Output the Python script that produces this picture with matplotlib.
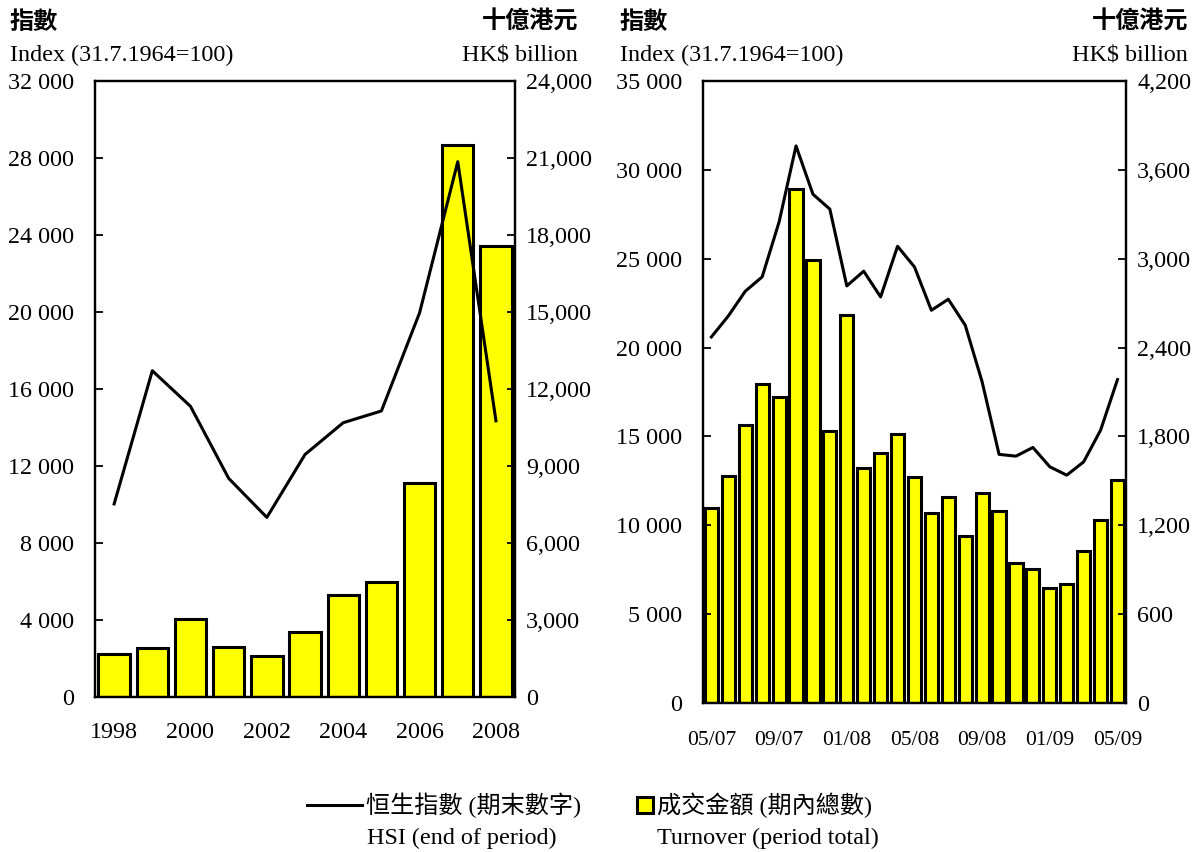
import matplotlib.pyplot as plt
from matplotlib.lines import Line2D
from matplotlib.patches import Rectangle
from matplotlib.ticker import FuncFormatter

# Data
years = list(range(1998, 2009))
hsi_year = [10030, 16950, 15100, 11360, 9330, 12600, 14250, 14860, 19960, 27810, 14350]
turnover_year = [1675, 1910, 3030, 1940, 1585, 2530, 3960, 4495, 8320, 21500, 17580]

months = ['05/07', '06/07', '07/07', '08/07', '09/07', '10/07', '11/07', '12/07',
          '01/08', '02/08', '03/08', '04/08', '05/08', '06/08', '07/08', '08/08',
          '09/08', '10/08', '11/08', '12/08', '01/09', '02/09', '03/09', '04/09', '05/09']
hsi_month = [20600, 21780, 23170, 23980, 27070, 31350, 28630, 27790,
             23470, 24300, 22850, 25700, 24540, 22100, 22720, 21260,
             18070, 13990, 13890, 14380, 13290, 12820, 13570, 15350, 18200]
turnover_month = [1316, 1532, 1876, 2153, 2065, 3470, 2990, 1838,
                  2622, 1588, 1690, 1815, 1527, 1283, 1390, 1127,
                  1418, 1298, 945, 905, 776, 802, 1027, 1236, 1505]

SERIF = 'Liberation Serif'
CJK = 'Noto Sans CJK TC'
FS = 17.4
YELLOW = '#FFFF00'

fig = plt.figure(figsize=(12, 8.52), dpi=100)


def space_fmt(v, pos):
    return f'{int(v):,}'.replace(',', ' ')


def comma_fmt(v, pos):
    return f'{int(v):,}'


def setup(ax, ax2):
    ax.set_zorder(ax2.get_zorder() + 1)
    ax.patch.set_visible(False)
    for a in (ax, ax2):
        for s in a.spines.values():
            s.set_linewidth(1.6)
        a.tick_params(axis='x', direction='in', length=0, labelsize=FS, pad=18)
        for lbl in a.get_xticklabels() + a.get_yticklabels():
            lbl.set_fontfamily(SERIF)
    ax.tick_params(axis='y', direction='in', length=6, width=1.3, labelsize=FS, pad=15)
    ax2.tick_params(axis='y', direction='in', length=6, width=1.3, labelsize=FS, pad=8)


# Left panel: annual
ax = fig.add_axes([0.0792, 0.1819, 0.3500, 0.7230])
ax2 = ax.twinx()
ax2.bar(years, turnover_year, width=0.82, color=YELLOW, edgecolor='black', linewidth=2.2)
ax.plot(years, hsi_year, color='black', linewidth=2.2)
ax.set_xlim(1997.5, 2008.5)
ax.set_ylim(0, 32000)
ax2.set_ylim(0, 24000)
ax.set_yticks(range(0, 32001, 4000))
ax2.set_yticks(range(0, 24001, 3000))
ax.yaxis.set_major_formatter(FuncFormatter(space_fmt))
ax2.yaxis.set_major_formatter(FuncFormatter(comma_fmt))
ax.set_xticks(years[::2])
ax.set_xticklabels([str(y) for y in years[::2]])
setup(ax, ax2)

# Right panel: monthly
x = list(range(len(months)))
bx = fig.add_axes([0.5858, 0.1749, 0.3525, 0.7300])
bx2 = bx.twinx()
bx2.bar(x, turnover_month, width=0.78, color=YELLOW, edgecolor='black', linewidth=2.2)
bx.plot(x, hsi_month, color='black', linewidth=2.2)
bx.set_xlim(-0.5, len(months) - 0.5)
bx.set_ylim(0, 35000)
bx2.set_ylim(0, 4200)
bx.set_yticks(range(0, 35001, 5000))
bx2.set_yticks(range(0, 4201, 600))
bx.yaxis.set_major_formatter(FuncFormatter(space_fmt))
bx2.yaxis.set_major_formatter(FuncFormatter(comma_fmt))
bx.set_xticks(x[::4])
bx.set_xticklabels(months[::4])
setup(bx, bx2)
bx.tick_params(axis='x', labelsize=15.5, pad=20)

# Axis titles
def fx(px):
    return px / 1200


def fy(py):
    return 1 - py / 852


for x0, x1 in [(10, 578), (620, 1188)]:
    fig.text(fx(x0), fy(22), '指數', family=CJK, fontsize=FS, fontweight='bold', va='center')
    fig.text(fx(x0), fy(55), 'Index (31.7.1964=100)', family=SERIF, fontsize=FS, va='center')
    fig.text(fx(x1), fy(22), '十億港元', family=CJK, fontsize=FS, fontweight='bold', va='center', ha='right')
    fig.text(fx(x1), fy(55), 'HK$ billion', family=SERIF, fontsize=FS, va='center', ha='right')

# Legend
fig.add_artist(Line2D([fx(307), fx(362)], [fy(805), fy(805)], color='black', linewidth=2.2))
fig.text(fx(366), fy(805), '恒生指數 (期末數字)', family=[SERIF, CJK], fontsize=FS, va='center')
fig.text(fx(367), fy(838), 'HSI (end of period)', family=SERIF, fontsize=FS, va='center')
fig.add_artist(Rectangle((fx(637), fy(813)), fx(16), 16 / 852, facecolor=YELLOW,
                         edgecolor='black', linewidth=2.2, transform=fig.transFigure))
fig.text(fx(657), fy(805), '成交金額 (期內總數)', family=[SERIF, CJK], fontsize=FS, va='center')
fig.text(fx(657), fy(838), 'Turnover (period total)', family=SERIF, fontsize=FS, va='center')

fig.savefig('out.png', dpi=100)
